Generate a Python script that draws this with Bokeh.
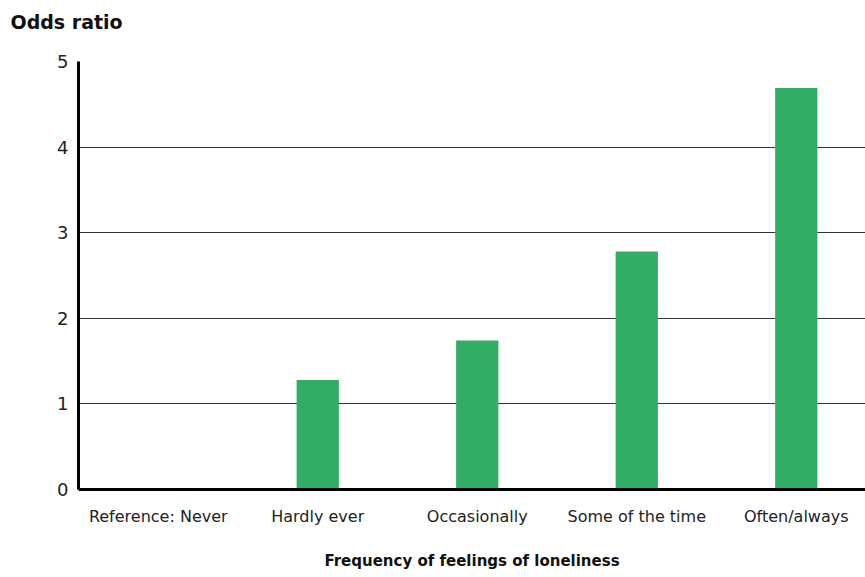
from bokeh.plotting import figure
from bokeh.models import Range1d, FixedTicker
from bokeh.embed import file_html
from bokeh.resources import INLINE

categories = ["Reference: Never", "Hardly ever", "Occasionally", "Some of the time", "Often/always"]
odds_ratio = [0.0, 1.28, 1.74, 2.78, 4.69]
y_ticks = [0, 1, 2, 3, 4, 5]
y_title = "Odds ratio"
x_title = "Frequency of feelings of loneliness"

x_pos = [i + 0.5 for i in range(len(categories))]

FONT = "DejaVu Sans"

p = figure(width=865, height=577, output_backend="svg", toolbar_location=None,
           x_range=Range1d(0, 4.934), y_range=Range1d(0, 5),
           min_border_left=78, min_border_right=0, min_border_top=61, min_border_bottom=88)
p.outline_line_color = None
p.background_fill_color = "white"
p.border_fill_color = "white"

# title: a trailing blank line lifts the text to the top of the border
p.title.text = y_title + "\n"
p.title.align = "left"
p.title.vertical_align = "bottom"
p.title.offset = -68
p.title.standoff = 13
p.title.text_font = FONT
p.title.text_font_size = "19px"
p.title.text_font_style = "bold"
p.title.text_color = "#111111"

p.vbar(x=x_pos, top=odds_ratio, width=0.265, color="#31ad65", line_color=None)

# axes
p.xaxis.ticker = FixedTicker(ticks=x_pos)
p.xaxis.major_label_overrides = {x: c for x, c in zip(x_pos, categories)}
p.xaxis.major_tick_line_color = None
p.xaxis.minor_tick_line_color = None
p.xaxis.axis_line_color = "black"
p.xaxis.axis_line_width = 3
p.xaxis.major_label_text_font = FONT
p.xaxis.major_label_text_font_size = "16px"
p.xaxis.major_label_text_color = "#222222"
p.xaxis.major_label_standoff = 11
p.xaxis.axis_label = x_title
p.xaxis.axis_label_text_font = FONT
p.xaxis.axis_label_text_font_size = "15px"
p.xaxis.axis_label_text_font_style = "bold"
p.xaxis.axis_label_text_color = "#111111"
p.xaxis.axis_label_standoff = 23

p.yaxis.ticker = FixedTicker(ticks=y_ticks)
p.yaxis.major_tick_line_color = None
p.yaxis.minor_tick_line_color = None
p.yaxis.axis_line_color = "black"
p.yaxis.axis_line_width = 3
p.yaxis.major_label_text_font = FONT
p.yaxis.major_label_text_font_size = "18px"
p.yaxis.major_label_text_color = "#222222"
p.yaxis.major_label_standoff = 4

p.xgrid.grid_line_color = None
p.ygrid.ticker = FixedTicker(ticks=y_ticks[1:])
p.ygrid.grid_line_color = "#333333"
p.ygrid.grid_line_width = 1.2

open("out.html", "w").write(file_html(p, INLINE))
